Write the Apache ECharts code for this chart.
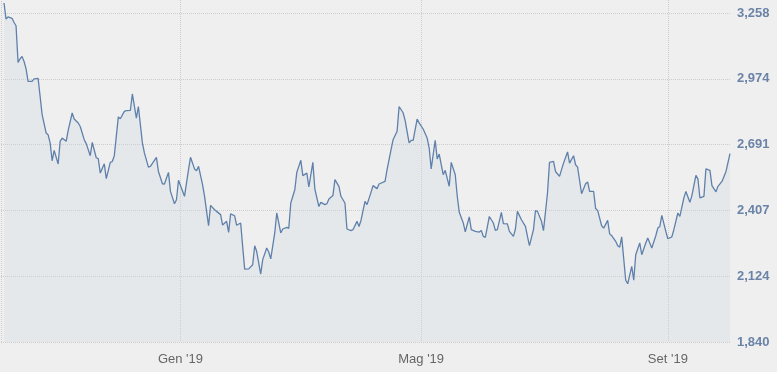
<!DOCTYPE html>
<html><head><meta charset="utf-8">
<script src="https://cdn.jsdelivr.net/npm/echarts@6/dist/echarts.min.js"></script>
<style>html,body{margin:0;padding:0;background:#efefef;}#c{width:777px;height:372px;}</style>
</head><body><div id="c"></div>
<script>
const dates = [
'2018-10-05','2018-10-06','2018-10-07','2018-10-09','2018-10-10','2018-10-11','2018-10-12','2018-10-13','2018-10-14','2018-10-15',
'2018-10-16','2018-10-17','2018-10-19','2018-10-20','2018-10-22','2018-10-23','2018-10-24','2018-10-26','2018-10-27','2018-10-28',
'2018-10-29','2018-10-30','2018-11-01','2018-11-02','2018-11-03','2018-11-05','2018-11-06','2018-11-08','2018-11-09','2018-11-11',
'2018-11-12','2018-11-14','2018-11-15','2018-11-17','2018-11-18','2018-11-20','2018-11-21','2018-11-22','2018-11-24','2018-11-25',
'2018-11-27','2018-11-28','2018-11-29','2018-12-01','2018-12-02','2018-12-04','2018-12-05','2018-12-07','2018-12-08','2018-12-10',
'2018-12-11','2018-12-13','2018-12-14','2018-12-16','2018-12-17','2018-12-20','2018-12-21','2018-12-23','2018-12-24','2018-12-26',
'2018-12-27','2018-12-29','2018-12-30','2018-12-31','2019-01-03','2019-01-05','2019-01-06','2019-01-08','2019-01-09','2019-01-10',
'2019-01-12','2019-01-13','2019-01-15','2019-01-16','2019-01-18','2019-01-19','2019-01-21','2019-01-22','2019-01-24','2019-01-25',
'2019-01-26','2019-01-28','2019-01-29','2019-01-31','2019-02-01','2019-02-02','2019-02-04','2019-02-06','2019-02-07','2019-02-08',
'2019-02-10','2019-02-11','2019-02-13','2019-02-14','2019-02-15','2019-02-17','2019-02-18','2019-02-20','2019-02-21','2019-02-23',
'2019-02-24','2019-02-25','2019-02-27','2019-02-28','2019-03-02','2019-03-03','2019-03-05','2019-03-06','2019-03-08','2019-03-09',
'2019-03-11','2019-03-12','2019-03-14','2019-03-15','2019-03-16','2019-03-18','2019-03-19','2019-03-21','2019-03-22','2019-03-24',
'2019-03-25','2019-03-27','2019-03-28','2019-03-30','2019-03-31','2019-04-01','2019-04-03','2019-04-04','2019-04-06','2019-04-07',
'2019-04-09','2019-04-10','2019-04-13','2019-04-14','2019-04-16','2019-04-17','2019-04-19','2019-04-20','2019-04-22','2019-04-23',
'2019-04-25','2019-04-26','2019-04-27','2019-04-29','2019-04-30','2019-05-02','2019-05-04','2019-05-05','2019-05-06','2019-05-08',
'2019-05-09','2019-05-10','2019-05-12','2019-05-13','2019-05-15','2019-05-16','2019-05-18','2019-05-19','2019-05-20','2019-05-22',
'2019-05-23','2019-05-25','2019-05-26','2019-05-28','2019-05-30','2019-05-31','2019-06-01','2019-06-02','2019-06-04','2019-06-06',
'2019-06-07','2019-06-08','2019-06-10','2019-06-11','2019-06-13','2019-06-14','2019-06-16','2019-06-17','2019-06-18','2019-06-20',
'2019-06-22','2019-06-23','2019-06-24','2019-06-26','2019-06-27','2019-06-28','2019-06-30','2019-07-01','2019-07-03','2019-07-04',
'2019-07-06','2019-07-07','2019-07-09','2019-07-10','2019-07-11','2019-07-13','2019-07-14','2019-07-16','2019-07-17','2019-07-18',
'2019-07-20','2019-07-22','2019-07-23','2019-07-24','2019-07-26','2019-07-27','2019-07-28','2019-07-30','2019-07-31','2019-08-02',
'2019-08-03','2019-08-04','2019-08-06','2019-08-07','2019-08-08','2019-08-09','2019-08-11','2019-08-12','2019-08-14','2019-08-15',
'2019-08-16','2019-08-18','2019-08-19','2019-08-21','2019-08-22','2019-08-24','2019-08-26','2019-08-27','2019-08-28','2019-08-29',
'2019-08-31','2019-09-01','2019-09-03','2019-09-04','2019-09-06','2019-09-07','2019-09-09','2019-09-10','2019-09-12','2019-09-13',
'2019-09-15','2019-09-16','2019-09-17','2019-09-19','2019-09-20','2019-09-22','2019-09-23','2019-09-25','2019-09-26','2019-09-28',
'2019-09-30','2019-10-02'
];
const values = [
3301,3232,3241,3235,3217,3203,3045,3060,3071,3049,
3017,2963,2963,2974,2976,2899,2820,2741,2733,2698,
2621,2666,2607,2705,2719,2705,2752,2827,2801,2784,
2769,2712,2695,2643,2700,2634,2630,2568,2608,2544,
2614,2618,2643,2810,2802,2834,2837,2838,2909,2805,
2855,2698,2655,2594,2597,2636,2575,2522,2521,2571,
2489,2436,2453,2537,2468,2583,2636,2586,2578,2597,
2518,2468,2341,2429,2410,2403,2389,2344,2360,2312,
2392,2384,2343,2353,2252,2154,2155,2173,2255,2230,
2133,2195,2245,2228,2198,2310,2396,2310,2327,2334,
2330,2439,2496,2571,2623,2557,2568,2508,2614,2499,
2424,2442,2432,2436,2456,2471,2540,2511,2468,2439,
2327,2320,2324,2360,2338,2364,2446,2432,2485,2514,
2501,2521,2532,2583,2669,2712,2748,2855,2828,2795,
2698,2709,2709,2801,2784,2758,2719,2676,2586,2709,
2629,2650,2561,2580,2511,2614,2561,2468,2399,2353,
2315,2379,2324,2317,2314,2321,2295,2291,2381,2353,
2321,2324,2399,2350,2349,2317,2295,2327,2403,2367,
2338,2295,2255,2324,2406,2403,2360,2320,2482,2614,
2618,2575,2554,2583,2611,2659,2611,2643,2604,2594,
2479,2522,2530,2489,2489,2415,2407,2341,2331,2364,
2306,2298,2274,2255,2249,2293,2106,2091,2166,2106,
2216,2267,2216,2267,2288,2245,2298,2331,2338,2386,
2317,2285,2293,2324,2396,2381,2461,2489,2442,2471,
2558,2543,2461,2468,2586,2580,2514,2487,2511,2532,
2575,2652
];
const xTickDates = ['2019-01-01', '2019-05-01', '2019-09-01'];
const xTickLabels = ["Gen '19", "Mag '19", "Set '19"];
const yTickValues = [1840, 2123.6, 2407.2, 2690.8, 2974.4, 3258];
const yTickLabels = ['1,840', '2,124', '2,407', '2,691', '2,974', '3,258'];
const xRange = ['2018-10-03 12:00', '2019-10-02'];
const yRange = [1840, 3314];

function toTime(s) {
  const m = s.match(/(\d+)-(\d+)-(\d+)(?: (\d+):(\d+))?/);
  return Date.UTC(+m[1], +m[2] - 1, +m[3], m[4] ? +m[4] : 0, m[5] ? +m[5] : 0);
}
const xTickTimes = xTickDates.map(toTime);
const seriesData = dates.map((d, i) => [toTime(d), values[i]]);

const chart = echarts.init(document.getElementById('c'), null, { renderer: 'canvas' });
const grid = { type: 'dotted', color: '#cccccc', width: 1 };
chart.setOption({
  backgroundColor: '#efefef',
  animation: false,
  grid: { left: 1, right: 47, top: 0, bottom: 30, containLabel: false },
  xAxis: {
    type: 'value',
    min: toTime(xRange[0]), max: toTime(xRange[1]),
    axisLine: { show: false },
    axisTick: { show: false, customValues: xTickTimes },
    splitLine: { show: true, lineStyle: grid },
    axisLabel: {
      customValues: xTickTimes,
      margin: 11,
      color: '#666666',
      fontFamily: 'Liberation Sans, Arial, sans-serif',
      fontSize: 13,
      formatter: function (v) {
        const i = xTickTimes.indexOf(v);
        return i >= 0 ? xTickLabels[i] : '';
      }
    }
  },
  yAxis: {
    type: 'value',
    position: 'right',
    min: yRange[0], max: yRange[1],
    axisLine: { show: false },
    axisTick: { show: false, customValues: yTickValues },
    splitLine: { show: true, lineStyle: grid },
    axisLabel: {
      customValues: yTickValues,
      margin: 7,
      color: '#6b83a7',
      fontWeight: 'bold',
      fontFamily: 'Liberation Sans, Arial, sans-serif',
      fontSize: 13,
      formatter: function (v) {
        let best = 0;
        for (let i = 1; i < yTickValues.length; i++) {
          if (Math.abs(yTickValues[i] - v) < Math.abs(yTickValues[best] - v)) best = i;
        }
        return yTickLabels[best];
      }
    }
  },
  series: [{
    type: 'line',
    data: seriesData,
    showSymbol: false,
    symbol: 'none',
    lineStyle: { color: '#5f80ab', width: 1.3 },
    areaStyle: { color: 'rgba(204,214,224,0.4)', origin: 'start' },
    silent: true,
    markLine: {
      silent: true, symbol: 'none', label: { show: false },
      lineStyle: grid,
      data: [{ xAxis: toTime(xRange[0]) }]
    }
  }]
});
</script>
</body></html>
